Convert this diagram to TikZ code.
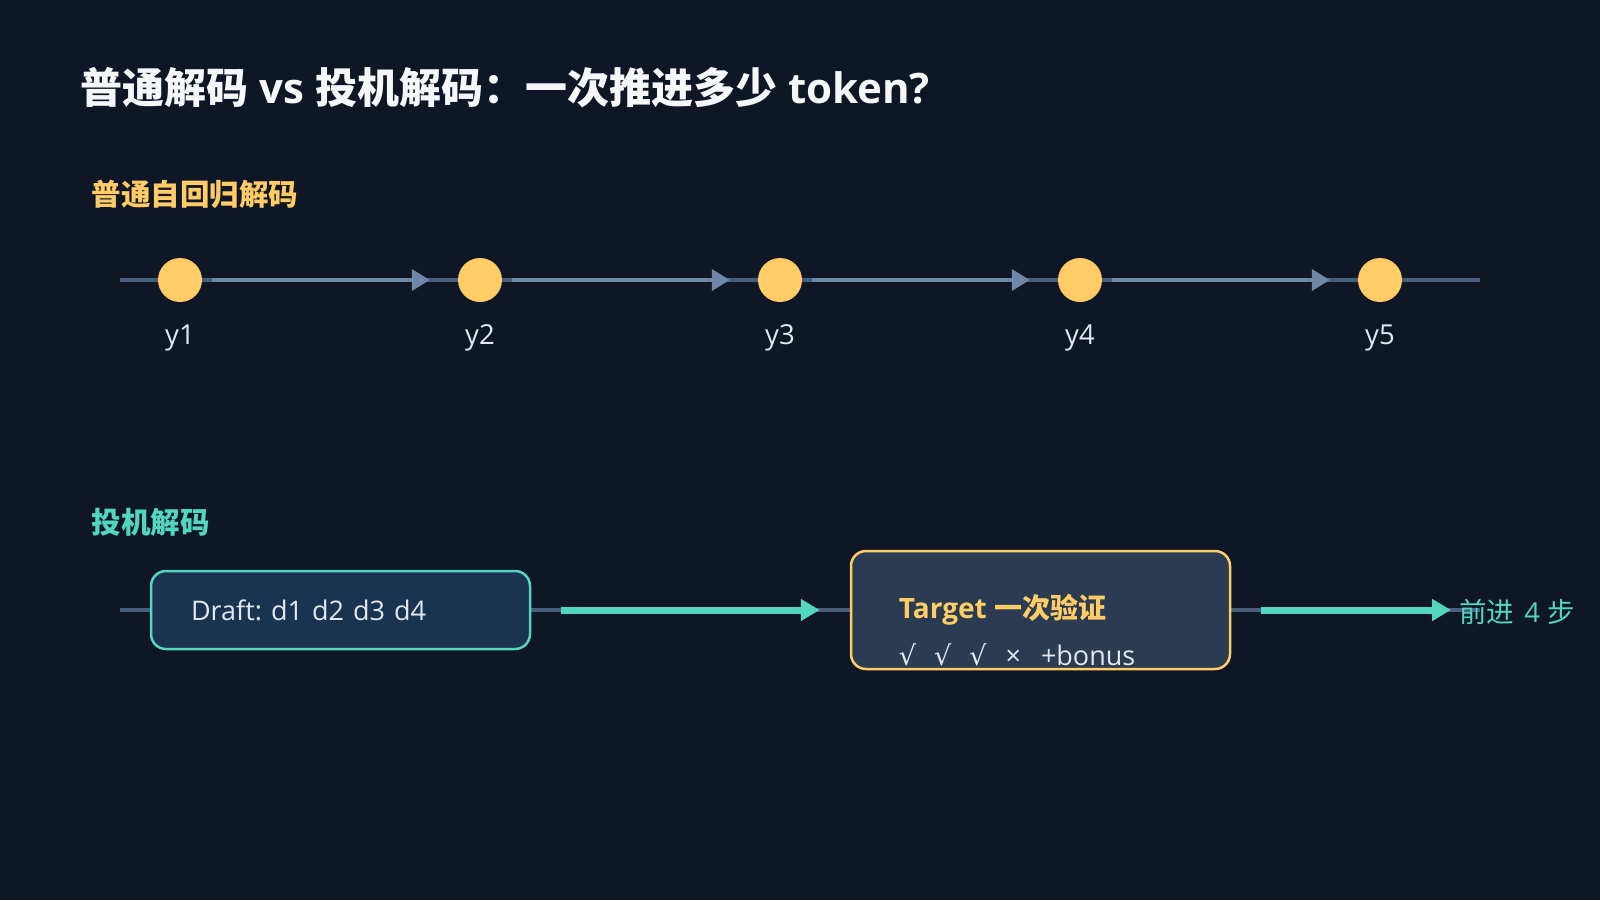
\documentclass[tikz,border=0pt]{standalone}
\usepackage{fontspec}
\setmainfont{Open Sans}
\newfontfamily\cjk{Noto Sans CJK SC}
\newfontfamily\symf{DejaVu Sans}
\usetikzlibrary{arrows.meta}
\frenchspacing
\definecolor{bg}{HTML}{0F1727}
\definecolor{baseln}{HTML}{4A5F7E}
\definecolor{segln}{HTML}{7088A8}
\definecolor{gold}{HTML}{FFCC66}
\definecolor{teal}{HTML}{52D6C0}
\definecolor{txt}{HTML}{E2E8F0}
\definecolor{titlec}{HTML}{F5F7FB}
\definecolor{draftfill}{HTML}{1A3350}
\definecolor{tgtfill}{HTML}{2A3B52}
\tikzset{
  basestyle/.style={draw=baseln, line width=4pt},
  segstyle/.style={draw=segln, line width=4pt, -{Triangle[length=18pt,width=21pt]}, shorten <=10pt, shorten >=28pt},
  tok/.style={circle, fill=gold, minimum size=44pt, inner sep=0pt},
  toklabel/.style={text=txt, font=\fontsize{27.5pt}{30pt}\selectfont},
  sectitle/.style={font=\fontsize{29.5pt}{34pt}\selectfont\cjk\bfseries, anchor=west},
  fastarrow/.style={draw=teal, line width=7pt, -{Triangle[length=19pt,width=21pt]}},
}
\begin{document}
\begin{tikzpicture}[x=1pt,y=-1pt]
\fill[bg] (0,0) rectangle (1600,900);
\useasboundingbox (0,0) rectangle (1600,900);
\node[anchor=west, text=titlec, font=\fontsize{42pt}{48pt}\selectfont\bfseries] (title) at (77,88) {{\cjk 普通解码} vs {\cjk 投机解码：一次推进多少} token?};
\node[sectitle, text=gold] (sec1) at (88,194) {普通自回归解码};
\node[sectitle, text=teal] (sec2) at (88,522) {投机解码};
% autoregressive line
\coordinate (la) at (120,280);
\coordinate (ra) at (1480,280);
\draw[basestyle] (la) -- (ra);
\foreach \i/\x in {1/180,2/480,3/780,4/1080,5/1380}{
  \node[tok] (c\i) at (\x,280) {};
  \node[toklabel] (l\i) at (\x,338) {y\i};
}
\foreach \a/\b in {1/2,2/3,3/4,4/5}{
  \draw[segstyle] (c\a) -- (c\b);
}
% speculative line
\coordinate (lb) at (120,610);
\coordinate (rb) at (1480,610);
\draw[basestyle] (lb) -- (rb);
\node[draw=teal, line width=2.5pt, fill=draftfill, rounded corners=15pt, minimum height=78pt, text width=299pt, inner xsep=40pt, align=left, text=txt, font=\fontsize{27pt}{30pt}\selectfont] (draft) at (340.5,610) {Draft: d1 d2 d3 d4};
\node[draw=gold, line width=2.5pt, fill=tgtfill, rounded corners=15pt, minimum width=379pt, minimum height=118pt, inner sep=0pt] (tgt) at (1040.5,610) {};
\node[anchor=west, text=gold, font=\fontsize{28pt}{32pt}\selectfont\bfseries, inner sep=0pt] (tgtt) at ([xshift=49pt]tgt.west) {Target {\cjk 一次验证}};
\node[anchor=west, text=txt, font=\fontsize{27pt}{30pt}\selectfont, inner sep=0pt] (tgtv) at ([xshift=49pt,yshift=-45pt]tgt.west) {{\symf √}\hspace{18pt}{\symf √}\hspace{18pt}{\symf √}\hspace{19pt}×\hspace{20pt}+bonus};
\draw[fastarrow, shorten <=30pt, shorten >=30pt] (draft) -- (tgt);
\coordinate (adv) at (1451,610);
\draw[fastarrow, shorten <=30pt] (tgt) -- (adv);
\node[anchor=west, text=teal, font=\fontsize{27.5pt}{30pt}\selectfont, inner sep=0pt] (advt) at (1459,612) {{\cjk 前进}\hspace{3pt} 4 {\cjk 步}};
\end{tikzpicture}
\end{document}
